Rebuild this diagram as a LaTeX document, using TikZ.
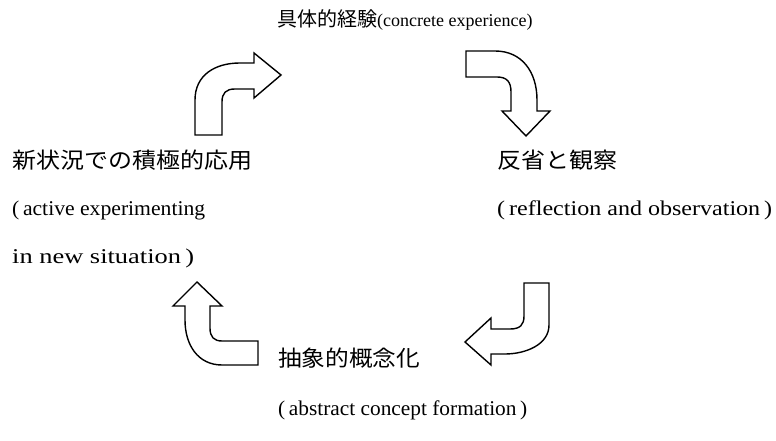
\documentclass[tikz,border=0pt]{standalone}
\usepackage{graphicx}
\usepackage{fontspec}
\setmainfont{Liberation Serif}
\newfontfamily\cjk{Noto Sans CJK JP}
\newcommand\fitw[2]{\resizebox{#1}{\height}{#2}}
\tikzset{
  lbl/.style={anchor=west, inner sep=0pt, font=\fontsize{21bp}{25bp}\selectfont},
  jlbl/.style={anchor=west, inner sep=0pt, font=\fontsize{22bp}{26bp}\cjk},
  bigarrow/.style={draw=black, fill=white, line width=1.4bp, line join=miter}
}
\begin{document}
\begin{tikzpicture}[x=1bp,y=-1bp]
\useasboundingbox (0,0) rectangle (776,441);
% texts
\node[lbl] (top) at (277,20) {\fitw{100bp}{\fontsize{20bp}{24bp}\cjk 具体的経験}{\fontsize{18bp}{22bp}\selectfont(concrete experience)}};
\node[jlbl] (r1) at (497,160) {\fitw{120bp}{反省と観察}};
\node[lbl] (r2) at (497,210) {\fitw{275bp}{(\,reflection and observation\,)}};
\node[jlbl] (l1) at (12,160) {\fitw{240bp}{新状況での積極的応用}};
\node[lbl] (l2) at (12,210) {\fitw{193bp}{(\,active experimenting}};
\node[lbl] (l3) at (12,258) {\fitw{182bp}{in new situation\,)}};
\node[jlbl] (b1) at (278,358) {\fitw{142bp}{抽象的概念化}};
\node[lbl] (b2) at (278,410) {\fitw{249bp}{(\,abstract concept formation\,)}};
% arrow 1 (up then right)
\draw[bigarrow] (195,135) -- (195,100) .. controls (195,75) and (215,63) .. (240,63)
  -- (254,63) -- (254,53) -- (281,75) -- (254,98) -- (254,89) -- (235,89)
  .. controls (226,89) and (222,93) .. (222,102) -- (222,135) -- cycle;
% arrow 2 (right then down)
\draw[bigarrow] (466,51) -- (495,51) .. controls (522,51) and (537,72) .. (537,100)
  -- (537,111) -- (550,111) -- (526,136) -- (502,111) -- (511,111) -- (511,92)
  .. controls (511,82) and (507,77) .. (497,77) -- (466,77) -- cycle;
% arrow 3 (down then left)
\draw[bigarrow] (524,283) -- (549,283) -- (549,325) .. controls (549,345) and (525,354) .. (505,354)
  -- (491,354) -- (491,365) -- (465,342) -- (491,318) -- (491,329) -- (510,329)
  .. controls (520,329) and (524,325) .. (524,316) -- cycle;
% arrow 4 (left then up)
\draw[bigarrow] (258,341) -- (258,365) -- (222,365) .. controls (198,365) and (185,345) .. (185,320)
  -- (185,306) -- (173,306) -- (197,282) -- (222,306) -- (210,306) -- (210,328)
  .. controls (210,337) and (214,341) .. (222,341) -- cycle;
\end{tikzpicture}
\end{document}
